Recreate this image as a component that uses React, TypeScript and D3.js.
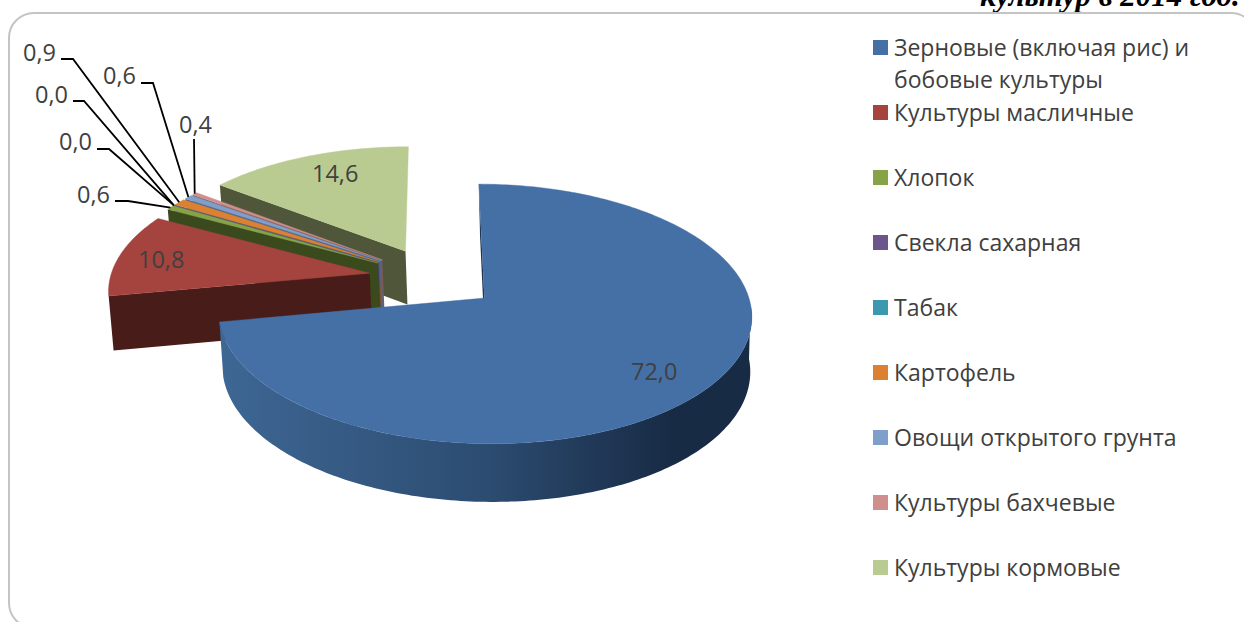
import React from "react";
import * as d3 from "d3";

const categories = ["Зерновые (включая рис) и|бобовые культуры", "Культуры масличные", "Хлопок", "Свекла сахарная", "Табак", "Картофель", "Овощи открытого грунта", "Культуры бахчевые", "Культуры кормовые"];
const values = [72.0, 10.8, 0.6, 0.0, 0.0, 0.9, 0.6, 0.4, 14.6];
const valueLabels = ["72,0", "10,8", "0,6", "0,0", "0,0", "0,9", "0,6", "0,4", "14,6"];
const topColors = ["#4470A6", "#A5433F", "#86A447", "#6C548C", "#3C98AF", "#DC8032", "#7F9FCB", "#CF8F8C", "#B9CB91"];
const wallColors = ["#1A2D47", "#481C19", "#3A4A1C", "#4A3A62", "#2A6A7A", "#8A4F1E", "#4F6689", "#7F5856", "#4F563A"];

// layout of value labels: [text x, baseline y], and leader elbow [start x, elbow x, y]
const labelPos: [number, number][] = [[631, 380], [138, 268], [77, 203], [59, 150], [35, 103], [23, 61], [103, 84], [179, 133], [312, 182]];
const elbows: ([number, number, number] | null)[] = [null, null, [115, 128, 201], [97, 109, 149], [73, 84, 101], [61, 73, 59], [141, 153, 83], [194, 194, 139], null];

const X0 = 433.5, Y0 = 278, RX = 259.5, RY = 123, K = 0.12, EXPLODE = 0.25;
const FONT = "'Open Sans', sans-serif";

const pie = d3.pie<number>().sort(null).value(d => d);
const arcs = pie(values);

type P = [number, number];
const project = (U: number, V: number): P => {
  const w = 1 - K * V;
  return [X0 + (RX * U) / w, Y0 + (RY * V) / w];
};
const lower = ([x, y]: P, V: number): P => {
  const w = 1 - K * V;
  return [600 + (x - 600) * 0.99, y + 54 / Math.sqrt(w)];
};
const apexUV = (mid: number): P => [EXPLODE * Math.sin(mid), -EXPLODE * Math.cos(mid)];
const onDisc = (mid: number, a: number, r = 1): P => {
  const [u, v] = apexUV(mid);
  return [u + r * Math.sin(a), v - r * Math.cos(a)];
};
const pt = (uv: P) => project(uv[0], uv[1]);
const low = (uv: P) => lower(pt(uv), uv[1]);
const line = d3.line<P>();
const angles = (a0: number, a1: number) => {
  const n = Math.max(2, Math.ceil(Math.abs(a1 - a0) * 60));
  return d3.range(n + 1).map(i => a0 + ((a1 - a0) * i) / n);
};

const drawOrder = [8, 7, 6, 5, 4, 3, 2, 1, 0];
const legendY = d3.scalePoint<number>().domain(d3.range(categories.length)).range([55, 575]);

export default function App() {
  const blue = arcs[0];
  const blueMid = (blue.startAngle + blue.endAngle) / 2;
  const wallTop = angles(1.62, blue.endAngle).map(a => onDisc(blueMid, a));
  const bluePath = line([...wallTop.map(pt), ...wallTop.slice().reverse().map(low)]) + "Z";
  return (
    <svg width={1244} height={622} style={{ position: "absolute", left: 0, top: 0, background: "#fff" }}>
      <defs>
        <linearGradient id="blueWall" gradientUnits="userSpaceOnUse" x1={220} x2={752} y1={0} y2={0}>
          <stop offset="0" stopColor="#3E6794" />
          <stop offset="0.5" stopColor="#2C4C71" />
          <stop offset="0.85" stopColor="#182B45" />
          <stop offset="1" stopColor="#182B45" />
        </linearGradient>
      </defs>
      <text x={980} y={6} fontFamily="'Liberation Serif', serif" fontWeight="bold" fontStyle="italic" fontSize={31} fill="#000">культур в 2014 год.</text>
      <rect x={9} y={13} width={1247} height={615} rx={25} ry={25} fill="#fff" stroke="#C4C4C4" strokeWidth={2} />

      {drawOrder.map(i => {
        const d = arcs[i];
        const mid = (d.startAngle + d.endAngle) / 2;
        const apex = apexUV(mid);
        const outerStart = onDisc(mid, d.startAngle);
        const top = [apex, ...angles(d.startAngle, d.endAngle).map(a => onDisc(mid, a))].map(pt);
        const wall = [pt(apex), pt(outerStart), low(outerStart), low(apex)];
        return (
          <g key={i}>
            <path d={line(wall) + "Z"} fill={wallColors[i]} />
            {i === 0 && <path d={bluePath} fill="url(#blueWall)" />}
            <path d={line(top) + "Z"} fill={topColors[i]} stroke={topColors[i]} strokeWidth={0.4} />
          </g>
        );
      })}

      {arcs.map((d, i) => {
        const e = elbows[i];
        if (!e) return null;
        const mid = (d.startAngle + d.endAngle) / 2;
        const end = pt(onDisc(mid, mid));
        const pts: P[] = [[e[0], e[2]], [e[1], e[2]], end];
        return <path key={i} d={line(pts)!} fill="none" stroke="#000" strokeWidth={1.8} />;
      })}

      {valueLabels.map((t, i) => (
        <text key={i} x={labelPos[i][0]} y={labelPos[i][1]} fontFamily={FONT} fontSize={23.5} fill="#404040">{t}</text>
      ))}

      {categories.map((c, i) => {
        const y = legendY(i)!;
        return (
          <g key={i}>
            <rect x={873} y={y - 15} width={15} height={15} fill={topColors[i]} />
            {c.split("|").map((s, j) => (
              <text key={j} x={894} y={y + 1 + j * 32} fontFamily={FONT} fontSize={23} fill="#404040">{s}</text>
            ))}
          </g>
        );
      })}
    </svg>
  );
}
